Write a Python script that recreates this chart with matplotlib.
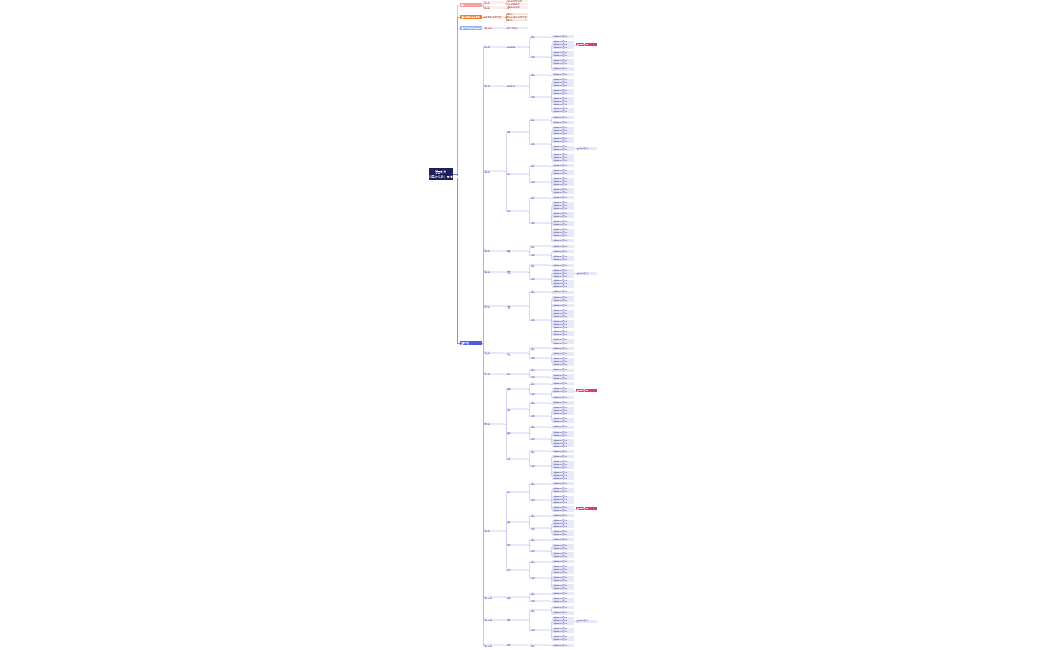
import matplotlib.pyplot as plt
from matplotlib.patches import Rectangle

plt.rcParams['font.family'] = ['Noto Sans CJK SC', 'DejaVu Sans']

# 根节点与一级分支
root_label = '管理办法\n（2024年修订版）思维导图'
top_labels = ['总则', '适用范围与基本原则', '组织机构与职责分工说明', '主要内容']
top_colors = ['#f7a1a1', '#f47a2a', '#8fb2f5', '#4e5ce0']

# 上方三个小分支的子节点
small_children = [
    [['第一条', ['第一条内容说明', '补充说明事项']], ['第二条', ['适用条款说明']]],
    [['基本原则说明内容', ['原则一', '原则二 具体说明内容', '原则三']]],
    [['职责分工', ['各部门职责']]],
]

# 主要内容：二级分支 -> 三级 -> 四级 -> 叶子行数
main_tree = [
    ('第一章', [('一般规定', [('条款', [1]), ('说明', [3, 2, 2, 1])])]),
    ('第二章', [('申请条件', [('条款', [1]), ('说明', [3, 2, 3, 2])])]),
    ('第三章', [('程序', [('条款', [1, 1]), ('说明', [3, 2, 2, 3])]),
               ('审核', [('条款', [1]), ('说明', [2, 3, 2])]),
               ('审批', [('条款', [1]), ('说明', [3, 2, 2, 3, 1])])]),
    ('第四章', [('监督', [('条款', [1]), ('说明', [1, 2])])]),
    ('第五章', [('管理', [('条款', [1]), ('说明', [3, 3])])]),
    ('第六章', [('检查', [('条款', [1]), ('说明', [2, 1, 3, 3, 2, 2])])]),
    ('第七章', [('责任', [('条款', [1]), ('说明', [1, 3])])]),
    ('第八章', [('附则', [('条款', [1]), ('说明', [2])])]),
    ('第九章', [('变更', [('条款', [1]), ('说明', [2, 1])]),
               ('终止', [('条款', [1]), ('说明', [3, 2])]),
               ('备案', [('条款', [1]), ('说明', [2, 3])]),
               ('公示', [('条款', [1]), ('说明', [1, 3, 3])])]),
    ('第十章', [('考核', [('条款', [1]), ('说明', [2, 3, 2])]),
               ('奖励', [('条款', [1]), ('说明', [3, 2])]),
               ('处罚', [('条款', [1]), ('说明', [2, 2])]),
               ('申诉', [('条款', [1]), ('说明', [3, 2, 2])])]),
    ('第十一章', [('其他', [('条款', [1]), ('说明', [2])])]),
    ('第十二章', [('解释', [('条款', [1, 1]), ('说明', [3, 2, 2])])]),
    ('第十三章', [('施行', [('条款', [1])])]),
]

# 部分叶子右侧的补充节点（按叶子序号），True 为红色重点
extra_nodes = {1: True, 14: False, 30: False, 45: True, 60: True, 75: False, 88: True}

EDGE = '#c6c6f0'
FILL = '#e8e8fb'
TXT = '#8a8ac8'
cols = [483, 506, 530, 552, 576]
widths = [22, 22, 20, 22, 21]

fig = plt.figure(figsize=(10.5, 6.5), dpi=100)
ax = fig.add_axes([0, 0, 1, 1])
ax.set_xlim(0, 1050)
ax.set_ylim(650, 0)
ax.axis('off')

leaf_h = []
for _, l3 in main_tree:
    for _, l4 in l3:
        for _, leaves in l4:
            leaf_h += [n * 2.6 + 3.2 for n in leaves]
y0, y1 = 34, 648
scale = (y1 - y0) / sum(leaf_h)
cursor = [y0]
count = [0]


def box(x, y, w, h, label, fc=FILL, tc=TXT, fs=1.6):
    ax.add_patch(Rectangle((x, y - h / 2), w, h, fc=fc, ec='none'))
    ax.text(x + 0.5, y, label, fontsize=fs, color=tc, va='center', ha='left')


def link(x0, ya, x1, yb, color=EDGE):
    xm = (x0 + x1) / 2
    ax.plot([x0, xm, xm, x1], [ya, ya, yb, yb], color=color, lw=0.5)


def draw_leaves(leaves):
    ys = []
    for n in leaves:
        h = (n * 2.6 + 3.2) * scale
        y = cursor[0] + h / 2
        box(cols[3], y, widths[3], n * 2.6 * scale + 0.6,
            '\n'.join(['相关规定具体内容说明'] * n), fs=1.1)
        k = count[0]
        if k in extra_nodes:
            red = extra_nodes[k]
            link(cols[3] + widths[3], y, cols[4], y)
            box(cols[4], y, widths[4], 3.0, '重点提示内容说明',
                fc='#d9406a' if red else FILL, tc='white' if red else TXT, fs=1.1)
        count[0] += 1
        cursor[0] += h
        ys.append(y)
    return ys


l2_ys = []
for name2, l3 in main_tree:
    l3_ys = []
    for name3, l4 in l3:
        l4_ys = []
        for name4, leaves in l4:
            ys = draw_leaves(leaves)
            y4 = (ys[0] + ys[-1]) / 2
            for y in ys:
                link(cols[2] + widths[2], y4, cols[3], y)
            box(cols[2], y4, widths[2], 2.0, name4)
            l4_ys.append(y4)
        y3 = (l4_ys[0] + l4_ys[-1]) / 2
        for y in l4_ys:
            link(cols[1] + widths[1], y3, cols[2], y)
        box(cols[1], y3, widths[1], 2.0, name3)
        l3_ys.append(y3)
    y2 = (l3_ys[0] + l3_ys[-1]) / 2
    for y in l3_ys:
        link(cols[0] + widths[0], y2, cols[1], y)
    box(cols[0], y2, widths[0], 2.0, name2)
    l2_ys.append(y2)

main_y = 343
for y in l2_ys:
    link(482, main_y, cols[0], y, color='#a9aff0')

# 上方三个小分支
small_ys = [5, 17, 28]
small_fill = ['#fdecec', '#fde6d6', '#e3ecfd']
for k, (yk, ch) in enumerate(zip(small_ys, small_children)):
    n = len(ch)
    for j, (lab, subs) in enumerate(ch):
        yy = yk + (j - (n - 1) / 2) * 5
        link(482, yk, 483, yy, color=top_colors[k])
        box(483, yy, 22, 2.2, lab, fc=small_fill[k], tc='#c08080')
        m = len(subs)
        for i, s in enumerate(subs):
            ys = yy + (i - (m - 1) / 2) * 2.8
            link(505, yy, 506, ys, color=top_colors[k])
            box(506, ys, 22, 2.4, s, fc=small_fill[k], tc='#c08080')

# 一级节点
for lab, c, y in zip(top_labels, top_colors, small_ys + [main_y]):
    link(453, 174, 460, y, color=c)
    box(460, y, 22, 3.2, lab, fc=c, tc='white', fs=1.6)

# 根节点
ax.add_patch(Rectangle((429, 168), 24, 12, fc='#1f1f5c', ec='none'))
ax.text(441, 174, root_label, fontsize=2.2, color='white', ha='center', va='center')

fig.savefig('out.png', dpi=100)
